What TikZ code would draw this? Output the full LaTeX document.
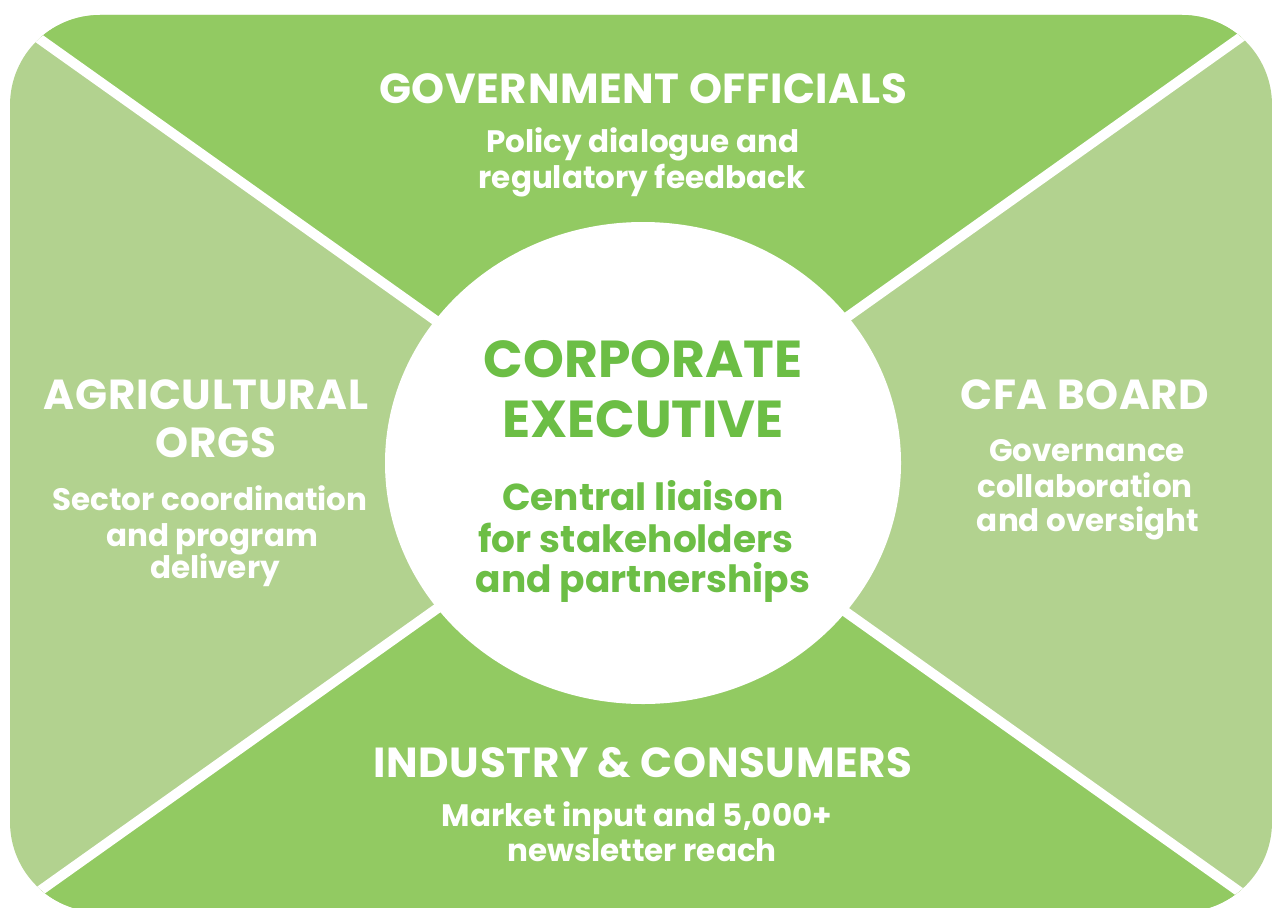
\documentclass[tikz,border=0pt]{standalone}
\usepackage{fontspec}
\setmainfont{Poppins}
\newfontfamily\headfont{Poppins}[LetterSpace=1.5]
\definecolor{darkg}{RGB}{146,202,98}
\definecolor{lightg}{RGB}{178,210,143}
\definecolor{textg}{RGB}{108,190,69}
\tikzset{
  head/.style={anchor=base, text=white, font=\headfont\fontsize{42}{42}\selectfont\bfseries, inner sep=0pt},
  body/.style={anchor=base, text=white, font=\fontsize{31}{31}\selectfont\bfseries, inner sep=0pt},
  chead/.style={anchor=base, text=textg, font=\fontsize{52}{52}\selectfont\bfseries, inner sep=0pt},
  cbody/.style={anchor=base, text=textg, font=\fontsize{37.5}{37.5}\selectfont\bfseries, inner sep=0pt},
}
\begin{document}
\begin{tikzpicture}[x=1pt,y=-1pt]
\useasboundingbox (0,0) rectangle (1273,907);
\coordinate (C) at (643,462);
\begin{scope}
  \clip[rounded corners=90pt] (10,15) rectangle (1272,912);
  \fill[lightg] (-50,-50) rectangle (1330,960);
  \fill[darkg] (C) -- (-623,-432) -- (1901,-432) -- cycle;
  \fill[darkg] (C) -- (-623,1362) -- (1901,1362) -- cycle;
  \draw[white, line width=10pt] (-623,-432) -- (1901,1362);
  \draw[white, line width=10pt] (1901,-432) -- (-623,1362);
\end{scope}
\fill[white] (643,463) ellipse [x radius=258, y radius=241];
% top
\node[head] (gov) at (643,103) {GOVERNMENT OFFICIALS};
\node[body] (gov1) at (643,152) {Policy dialogue and};
\node[body] (gov2) at (642,188) {regulatory feedback};
% center
\node[chead] (ce1) at (643,377) {CORPORATE};
\node[chead] (ce2) at (643,437) {EXECUTIVE};
\node[cbody] (cb1) at (643,510) {Central liaison};
\node[cbody] (cb2) at (636,552) {for stakeholders};
\node[cbody] (cb3) at (643,592) {and partnerships};
% left
\node[head] (ag1) at (206,409) {AGRICULTURAL};
\node[head] (ag2) at (216,457) {ORGS};
\node[body] (ag3) at (210,510) {Sector coordination};
\node[body] (ag4) at (212,546) {and program};
\node[body] (ag5) at (215,578) {delivery};
% right
\node[head] (cfa) at (1085,409) {CFA BOARD};
\node[body] (cfa1) at (1087,461) {Governance};
\node[body] (cfa2) at (1085,497) {collaboration};
\node[body] (cfa3) at (1088,531) {and oversight};
% bottom
\node[head] (ind) at (643,777) {INDUSTRY \& CONSUMERS};
\node[body] (ind1) at (637,826) {Market input and 5,000+};
\node[body] (ind2) at (642,861) {newsletter reach};
\end{tikzpicture}
\end{document}
